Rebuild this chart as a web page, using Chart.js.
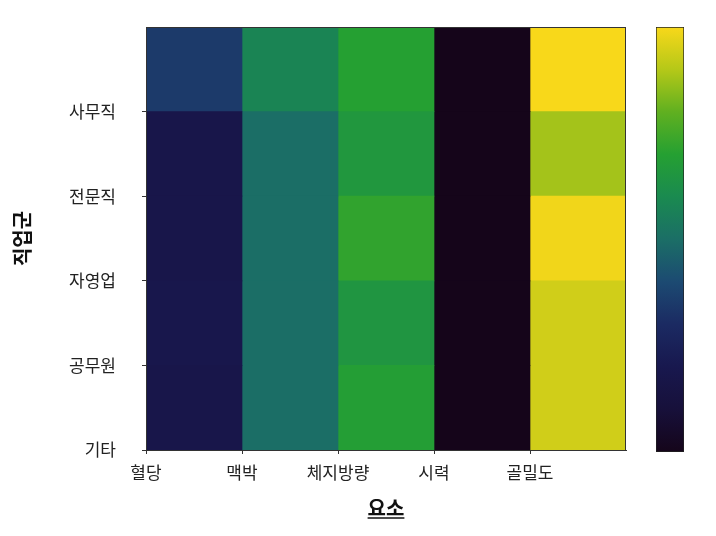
<!DOCTYPE html>
<html>
<head>
<meta charset="utf-8">
<script src="https://cdn.jsdelivr.net/npm/chart.js@4/dist/chart.umd.min.js"></script>
<style>
  body { margin: 0; background: #fff; }
  #wrap { position: relative; width: 716px; height: 536px; }
  #heat { position: absolute; left: 0; top: 0; }
  #bar { position: absolute; left: 646px; top: 0; }
</style>
</head>
<body>
<div id="wrap">
  <canvas id="heat" width="716" height="536"></canvas>
  <canvas id="bar" width="48" height="536"></canvas>
</div>
<script>
// 축 라벨
const xLabels = ['혈당', '맥박', '체지방량', '시력', '골밀도'];
const yLabels = ['사무직', '전문직', '자영업', '공무원', '기타'];

// 요소별 값 (위쪽 행부터 아래쪽 행, 0~1)
const bloodSugar  = [0.35, 0.18, 0.18, 0.19, 0.18];
const pulse       = [0.58, 0.50, 0.50, 0.50, 0.50];
const bodyFat     = [0.70, 0.66, 0.72, 0.65, 0.69];
const vision      = [0.00, 0.00, 0.00, 0.00, 0.00];
const boneDensity = [1.00, 0.88, 0.99, 0.94, 0.94];

const columns = [bloodSugar, pulse, bodyFat, vision, boneDensity];

// 색상표 (viridis 계열)
const cmapStops = ['#15051a', '#17103a', '#18184e', '#1b2a62', '#1c4a72',
                   '#1b6e66', '#1a8a50', '#25a032', '#60b020', '#b5c818', '#f8d81a'];

function hexToRgb(h) {
    return [parseInt(h.slice(1, 3), 16), parseInt(h.slice(3, 5), 16), parseInt(h.slice(5, 7), 16)];
}

function colorFor(v) {
    const t = Math.max(0, Math.min(1, v)) * (cmapStops.length - 1);
    const i = Math.min(Math.floor(t), cmapStops.length - 2);
    const f = t - i;
    const a = hexToRgb(cmapStops[i]);
    const b = hexToRgb(cmapStops[i + 1]);
    const c = a.map((x, k) => Math.round(x + (b[k] - x) * f));
    return `rgb(${c[0]}, ${c[1]}, ${c[2]})`;
}

const datasets = columns.map((col, i) => ({
    label: xLabels[i],
    data: col.map((v, r) => ({ x: i + 0.5, y: [r, r + 1] })),
    backgroundColor: col.map(v => colorFor(v)),
    borderWidth: 0,
    borderSkipped: false,
    barPercentage: 1,
    categoryPercentage: 1
}));

const tickFont = { family: '"Noto Sans CJK KR", "Noto Sans", sans-serif', size: 17 };
const titleFont = { family: '"Noto Sans CJK KR", "Noto Sans", sans-serif', size: 20, weight: 'bold' };

// 테두리와 x축 제목 밑줄
const framePlugin = {
    id: 'frame',
    afterDraw(chart) {
        const { ctx, chartArea } = chart;
        ctx.save();
        ctx.strokeStyle = '#333';
        ctx.lineWidth = 1;
        ctx.strokeRect(chartArea.left + 0.5, chartArea.top + 0.5,
                       chartArea.right - chartArea.left - 1, chartArea.bottom - chartArea.top);
        ctx.font = 'bold 20px "Noto Sans CJK KR", sans-serif';
        const w = ctx.measureText('요소').width;
        const cx = (chartArea.left + chartArea.right) / 2;
        ctx.strokeStyle = '#111';
        ctx.lineWidth = 1.5;
        ctx.beginPath();
        ctx.moveTo(cx - w / 2, 518);
        ctx.lineTo(cx + w / 2, 518);
        ctx.stroke();
        ctx.restore();
    }
};

new Chart(document.getElementById('heat'), {
    type: 'bar',
    data: { datasets: datasets },
    options: {
        responsive: false,
        animation: false,
        layout: { padding: { top: 27, right: 90, bottom: 0, left: 0 } },
        plugins: { legend: { display: false }, tooltip: { enabled: false } },
        scales: {
            x: {
                type: 'linear',
                min: 0,
                max: 5,
                offset: false,
                stacked: true,
                afterFit: s => { s.height = 86; },
                grid: {
                    offset: false,
                    drawOnChartArea: false,
                    tickLength: 4,
                    tickColor: c => (c.tick && c.tick.value === 5 ? 'rgba(0,0,0,0)' : '#333')
                },
                border: { color: '#333' },
                ticks: {
                    stepSize: 1,
                    autoSkip: false,
                    maxRotation: 0,
                    padding: 8,
                    color: '#222',
                    font: tickFont,
                    callback: v => xLabels[v] ?? ''
                },
                title: { display: true, text: '요소', color: '#111', font: titleFont, padding: { top: 16, bottom: 16 } }
            },
            y: {
                type: 'linear',
                min: 0,
                max: 5,
                reverse: true,
                afterFit: s => { s.width = 146; s.paddingTop = 0; s.paddingBottom = 0; },
                grid: {
                    drawOnChartArea: false,
                    tickLength: 4,
                    tickColor: c => (c.tick && c.tick.value === 0 ? 'rgba(0,0,0,0)' : '#333')
                },
                border: { color: '#333' },
                ticks: {
                    stepSize: 1,
                    autoSkip: false,
                    padding: 26,
                    color: '#222',
                    font: tickFont,
                    callback: v => yLabels[v - 1] ?? ''
                },
                title: { display: true, text: '직업군', color: '#111', font: titleFont, padding: { top: 10, bottom: 10 } }
            }
        }
    },
    plugins: [framePlugin]
});

// 컬러바
new Chart(document.getElementById('bar'), {
    type: 'bar',
    data: {
        labels: [''],
        datasets: [{
            data: [[0, 1]],
            backgroundColor: c => {
                const area = c.chart.chartArea;
                if (!area) return cmapStops[0];
                const g = c.chart.ctx.createLinearGradient(0, area.bottom, 0, area.top);
                cmapStops.forEach((s, i) => g.addColorStop(i / (cmapStops.length - 1), s));
                return g;
            },
            borderColor: '#222',
            borderWidth: 1,
            borderSkipped: false,
            barPercentage: 1,
            categoryPercentage: 1
        }]
    },
    options: {
        responsive: false,
        animation: false,
        layout: { padding: { top: 27, right: 10, bottom: 84, left: 10 } },
        plugins: { legend: { display: false }, tooltip: { enabled: false } },
        scales: {
            x: { display: false },
            y: { display: false, min: 0, max: 1 }
        }
    }
});
</script>
</body>
</html>
